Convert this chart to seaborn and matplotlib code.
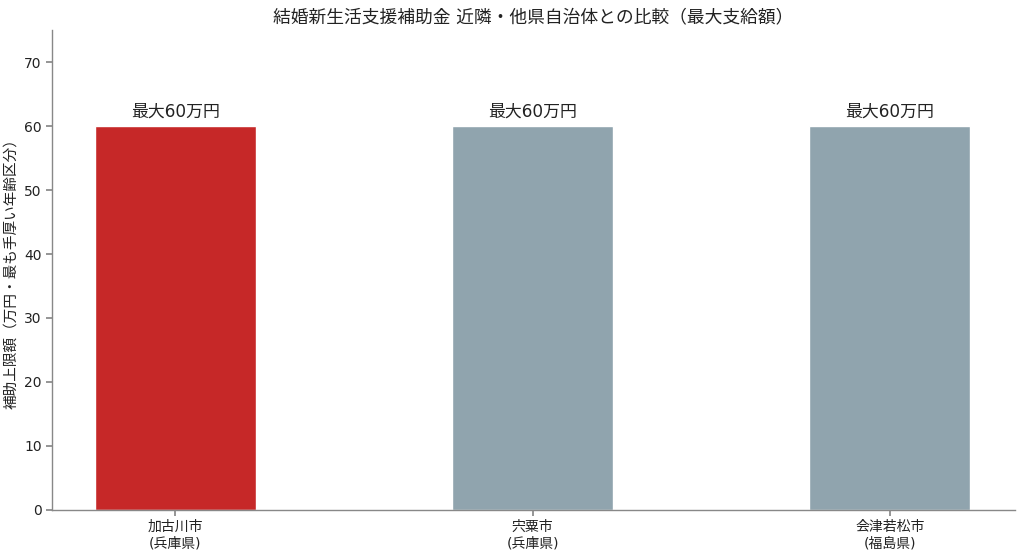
import matplotlib
matplotlib.use("Agg")
import matplotlib.pyplot as plt
import seaborn as sns
import pandas as pd

categories = ["加古川市\n(兵庫県)", "宍粟市\n(兵庫県)", "会津若松市\n(福島県)"]
values = [60, 60, 60]
labels = ["最大60万円", "最大60万円", "最大60万円"]
colors = ["#C62828", "#90A4AE", "#90A4AE"]

sns.set_theme(style="white")
plt.rcParams['font.family'] = ['DejaVu Sans', 'Noto Sans CJK JP']

df = pd.DataFrame({"city": categories, "value": values})

fig = plt.figure(figsize=(10.24, 5.59), dpi=100)
ax = fig.add_axes([0.051, 0.088, 0.940, 0.858])
sns.barplot(data=df, x="city", y="value", hue="city", palette=colors,
            legend=False, width=0.45, saturation=1, ax=ax)
ax.set_xlim(-0.345, 2.35)
ax.set_ylim(0, 75)
ax.set_yticks([0, 10, 20, 30, 40, 50, 60, 70])
for i, (v, t) in enumerate(zip(values, labels)):
    ax.text(i, v + 0.9, t, ha="center", va="bottom", fontsize=12.2, color="#222222")
ax.set_title("結婚新生活支援補助金 近隣・他県自治体との比較（最大支給額）", fontsize=12.8, pad=6, color="#222222")
ax.set_xlabel("")
ax.set_ylabel("補助上限額（万円・最も手厚い年齢区分）", fontsize=10.5, color="#222222")
ax.tick_params(axis="both", labelsize=10, colors="#222222", length=4, left=True, bottom=True)
for s in ["top", "right"]:
    ax.spines[s].set_visible(False)
for s in ["left", "bottom"]:
    ax.spines[s].set_color("#888888")
    ax.spines[s].set_linewidth(1)
ax.tick_params(color="#888888")
fig.savefig("out.png", dpi=100)
